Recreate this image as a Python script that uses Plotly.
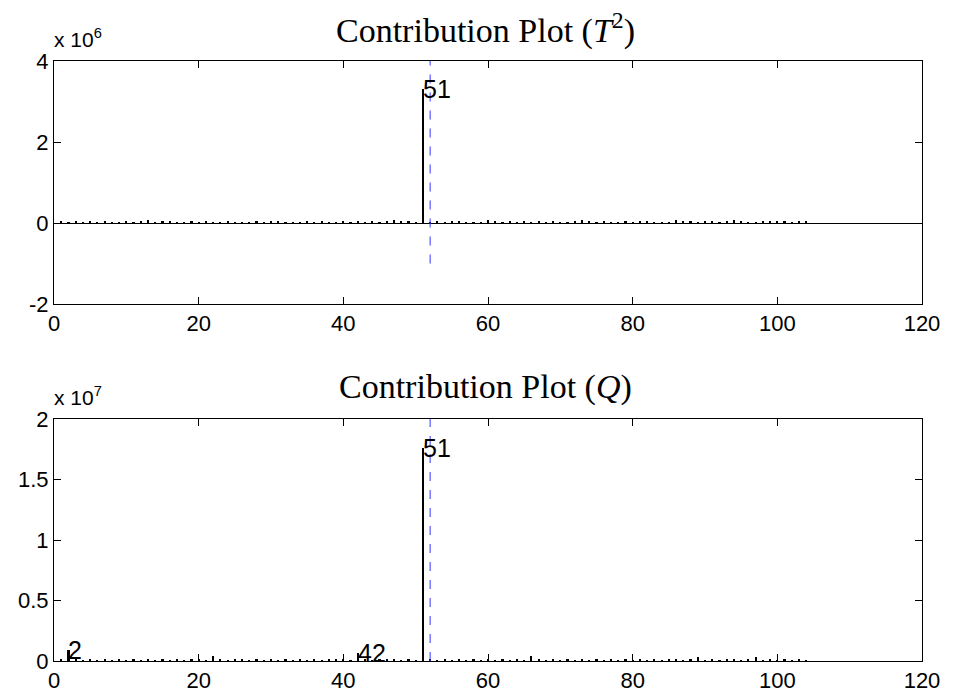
import plotly.graph_objects as go

# ---------------- data ----------------
variables = list(range(1, 105))

# T^2 contributions (raw values)
t2_values = [
    0.03e6, 0.02e6, 0.03e6, 0.01e6, 0.03e6, 0.02e6, 0.03e6, 0.01e6, 0.02e6, 0.03e6,
    0.02e6, 0.03e6, 0.07e6, 0.02e6, 0.03e6, 0.03e6, 0.02e6, 0.01e6, 0.03e6, 0.02e6,
    0.03e6, 0.01e6, 0.02e6, 0.03e6, 0.02e6, 0.01e6, 0.02e6, 0.03e6, 0.02e6, 0.03e6,
    0.03e6, 0.02e6, 0.01e6, 0.02e6, 0.03e6, 0.02e6, 0.03e6, 0.02e6, 0.01e6, 0.03e6,
    0.02e6, 0.03e6, 0.02e6, 0.03e6, 0.02e6, 0.03e6, 0.07e6, 0.03e6, 0.03e6, 0.02e6,
    3.30e6, 0.02e6, 0.03e6, 0.02e6, 0.03e6, 0.03e6, 0.01e6, 0.02e6, 0.01e6, 0.07e6,
    0.03e6, 0.01e6, 0.03e6, 0.02e6, 0.03e6, 0.02e6, 0.03e6, 0.01e6, 0.03e6, 0.01e6,
    0.02e6, 0.03e6, 0.07e6, 0.03e6, 0.01e6, 0.03e6, 0.02e6, 0.01e6, 0.03e6, 0.02e6,
    0.03e6, 0.03e6, 0.01e6, 0.01e6, 0.02e6, 0.07e6, 0.03e6, 0.03e6, 0.01e6, 0.03e6,
    0.03e6, 0.02e6, 0.03e6, 0.07e6, 0.03e6, 0.01e6, 0.01e6, 0.03e6, 0.03e6, 0.03e6,
    0.03e6, 0.01e6, 0.03e6, 0.03e6,
]

# Q contributions (raw values)
q_values = [
    0.10e6, 0.90e6, 0.10e6, 0.08e6, 0.10e6, 0.08e6, 0.10e6, 0.08e6, 0.10e6, 0.08e6,
    0.10e6, 0.08e6, 0.12e6, 0.08e6, 0.10e6, 0.08e6, 0.10e6, 0.08e6, 0.10e6, 0.10e6,
    0.08e6, 0.40e6, 0.10e6, 0.08e6, 0.10e6, 0.12e6, 0.08e6, 0.10e6, 0.08e6, 0.10e6,
    0.08e6, 0.10e6, 0.08e6, 0.10e6, 0.08e6, 0.10e6, 0.08e6, 0.10e6, 0.10e6, 0.10e6,
    0.08e6, 0.66e6, 0.10e6, 0.08e6, 0.10e6, 0.12e6, 0.10e6, 0.08e6, 0.10e6, 0.08e6,
    17.6e6, 0.10e6, 0.08e6, 0.10e6, 0.08e6, 0.10e6, 0.08e6, 0.10e6, 0.08e6, 0.10e6,
    0.08e6, 0.10e6, 0.08e6, 0.10e6, 0.08e6, 0.45e6, 0.10e6, 0.08e6, 0.10e6, 0.08e6,
    0.10e6, 0.08e6, 0.12e6, 0.08e6, 0.10e6, 0.08e6, 0.10e6, 0.08e6, 0.10e6, 0.08e6,
    0.10e6, 0.08e6, 0.10e6, 0.08e6, 0.10e6, 0.12e6, 0.08e6, 0.10e6, 0.33e6, 0.08e6,
    0.10e6, 0.08e6, 0.10e6, 0.12e6, 0.08e6, 0.10e6, 0.33e6, 0.08e6, 0.10e6, 0.08e6,
    0.10e6, 0.08e6, 0.10e6, 0.08e6,
]

t2_scale = 1e6
q_scale = 1e7

t2_labelled = [51]
q_labelled = [2, 42, 51]

fault_var = [52, 52]
t2_line_y = [-1.0e6, 4.0e6]
q_line_y = [0.0, 2.1e7]

x_ticks = [0, 20, 40, 60, 80, 100, 120]
t2_ticks = [-2, 0, 2, 4]
t2_ticktext = ["-2", "0", "2", "4"]
q_ticks = [0, 0.5, 1, 1.5, 2]
q_ticktext = ["0", "0.5", "1", "1.5", "2"]

titles = ["Contribution Plot (<i>T</i><sup>2</sup>)", "Contribution Plot (<i>Q</i>)"]

# ---------------- figure ----------------
W, H = 953, 698
fig = go.Figure()

t2_plot = [v / t2_scale for v in t2_values]
q_plot = [v / q_scale for v in q_values]

fig.add_trace(go.Bar(x=variables, y=t2_plot, width=0.3, marker=dict(color="black", line=dict(width=0)),
                     xaxis="x", yaxis="y", showlegend=False))
fig.add_trace(go.Scatter(x=fault_var, y=[v / t2_scale for v in t2_line_y], mode="lines",
                         line=dict(color="#3333ff", width=1, dash="dash"),
                         xaxis="x", yaxis="y", showlegend=False))
fig.add_trace(go.Bar(x=variables, y=q_plot, width=0.3, marker=dict(color="black", line=dict(width=0)),
                     xaxis="x2", yaxis="y2", showlegend=False))
fig.add_trace(go.Scatter(x=fault_var, y=[v / q_scale for v in q_line_y], mode="lines",
                         line=dict(color="#3333ff", width=1, dash="dash"),
                         xaxis="x2", yaxis="y2", showlegend=False))

tick_font = dict(family="Liberation Sans, Arial, sans-serif", size=22, color="black")
xdom = [54 / W, 922 / W]
top_dom = [1 - 304 / H, 1 - 61 / H]
bot_dom = [1 - 661 / H, 1 - 419 / H]

common_axis = dict(showline=True, linecolor="black", linewidth=1, mirror="ticks",
                   ticks="inside", ticklen=7, tickcolor="black", tickwidth=1,
                   showgrid=False, tickfont=tick_font, automargin=False)

fig.update_layout(
    width=W, height=H,
    margin=dict(l=0, r=0, t=0, b=0),
    paper_bgcolor="white", plot_bgcolor="white",
    bargap=0,
    xaxis=dict(domain=xdom, range=[0, 120], tickvals=x_ticks, anchor="y", zeroline=False, **common_axis),
    yaxis=dict(domain=top_dom, range=[-2, 4], tickvals=t2_ticks, ticktext=t2_ticktext, anchor="x",
               zeroline=True, zerolinecolor="black", zerolinewidth=1, **common_axis),
    xaxis2=dict(domain=xdom, range=[0, 120], tickvals=x_ticks, anchor="y2", zeroline=False, **common_axis),
    yaxis2=dict(domain=bot_dom, range=[0, 2], tickvals=q_ticks, ticktext=q_ticktext, anchor="x2",
                zeroline=False, **common_axis),
)

annotations = []
lab_font = dict(family="Liberation Sans, Arial, sans-serif", size=25, color="black")
for v in t2_labelled:
    annotations.append(dict(x=v, y=t2_plot[v - 1], xref="x", yref="y", text=str(v), showarrow=False,
                            xanchor="left", yanchor="middle", xshift=-2, font=lab_font))
for v in q_labelled:
    annotations.append(dict(x=v, y=q_plot[v - 1], xref="x2", yref="y2", text=str(v), showarrow=False,
                            xanchor="left", yanchor="middle", xshift=-2, font=lab_font))

title_font = dict(family="Liberation Serif, Times New Roman, serif", size=34, color="black")
annotations.append(dict(x=485 / W, y=1 - 52 / H, xref="paper", yref="paper", text=titles[0],
                        showarrow=False, xanchor="center", yanchor="bottom", font=title_font))
annotations.append(dict(x=485 / W, y=1 - 408 / H, xref="paper", yref="paper", text=titles[1],
                        showarrow=False, xanchor="center", yanchor="bottom", font=title_font))

exp_font = dict(family="Liberation Sans, Arial, sans-serif", size=21, color="black")
annotations.append(dict(x=52 / W, y=1 - 53 / H, xref="paper", yref="paper", text="x 10<sup>6</sup>",
                        showarrow=False, xanchor="left", yanchor="bottom", font=exp_font))
annotations.append(dict(x=52 / W, y=1 - 411 / H, xref="paper", yref="paper", text="x 10<sup>7</sup>",
                        showarrow=False, xanchor="left", yanchor="bottom", font=exp_font))

fig.update_layout(annotations=annotations)

fig.write_html("out.html")
